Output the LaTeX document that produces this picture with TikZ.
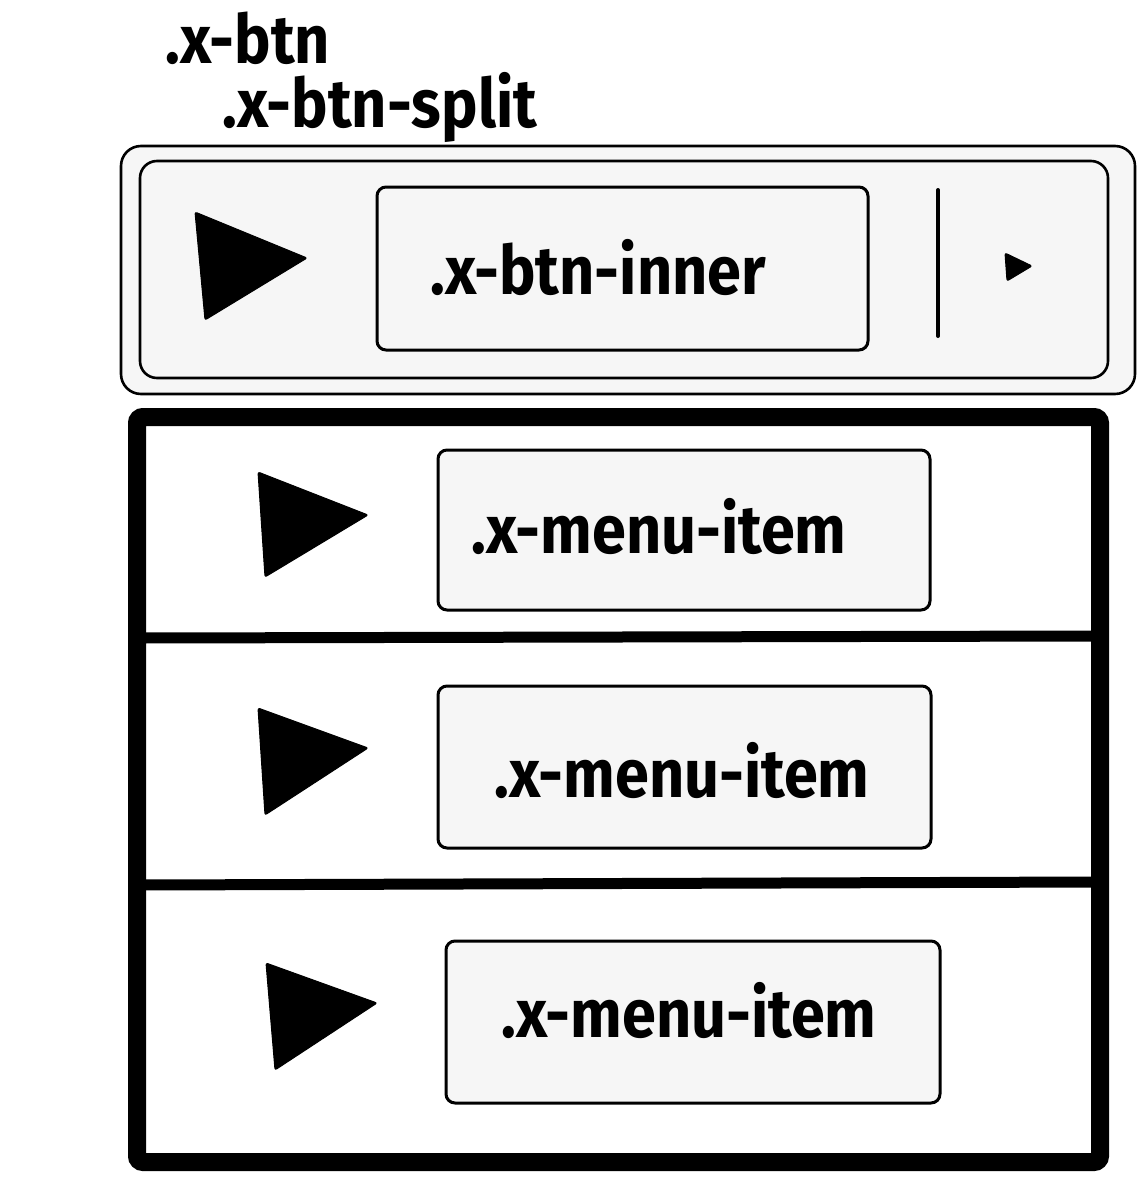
\documentclass[tikz,border=0pt]{standalone}
\usepackage{xcolor}
\usepackage{fontspec}
\usepackage{tikz}
\usetikzlibrary{positioning}
\newfontfamily\sketchfont[FakeStretch=0.9]{Fira Sans}
\definecolor{BoxFill} {HTML}{F6F6F6}
\definecolor{Ink}     {HTML}{000000}

\begin{document}
\begin{tikzpicture}[x=1pt,y=-1pt,
    lbl/.style={font=\sketchfont\bfseries\fontsize{68}{72}\selectfont,text=Ink,inner sep=0pt,anchor=base},
    btnbox/.style={fill=BoxFill,draw=Ink,line width=2.6pt,rounded corners=20pt},
    itembox/.style={fill=BoxFill,draw=Ink,line width=3pt,rounded corners=9pt},
    frame/.style={draw=Ink,line width=18pt,rounded corners=6pt},
    divider/.style={draw=Ink,line width=11pt},
    tri/.style={fill=Ink,draw=Ink,line width=1pt,rounded corners=2pt}]
    \useasboundingbox (0,0) rectangle (1145,1183);
    % class labels
    \node[lbl,anchor=base west] (btn) at (165,63) {.x-btn};
    \node[lbl,anchor=base west] (split) at (222,127) {.x-btn-split};
    % split button
    \draw[btnbox] (121,146) rectangle (1135,394);
    \draw[btnbox,rounded corners=17pt] (140,161) rectangle (1108,378);
    \draw[itembox] (377,187) rectangle (868,350);
    \node[lbl] (inner) at (598,294) {.x-btn-inner};
    \fill[tri] (195,212) -- (307,258) -- (205,320) -- cycle;
    \draw[Ink,line width=4pt,line cap=round] (938,190) -- (938,336);
    \fill[tri] (1005,253) -- (1032,266) -- (1007,281) -- cycle;
    % menu
    \draw[frame,fill=white] (137,417) rectangle (1100,1162);
    \draw[divider] (142,638) -- (1095,636);
    \draw[divider] (142,885) -- (1095,882);
    \draw[itembox] (438,450) rectangle (930,610);
    \draw[itembox] (438,686) rectangle (931,848);
    \draw[itembox] (446,941) rectangle (940,1103);
    \node[lbl] (item1) at (659,553) {.x-menu-item};
    \node[lbl] (item2) at (682,797) {.x-menu-item};
    \node[lbl] (item3) at (689,1037) {.x-menu-item};
    \fill[tri] (258,472) -- (368,515) -- (265,577) -- cycle;
    \fill[tri] (258,708) -- (368,748) -- (265,815) -- cycle;
    \fill[tri] (266,963) -- (377,1003) -- (275,1070) -- cycle;
\end{tikzpicture}
\end{document}
